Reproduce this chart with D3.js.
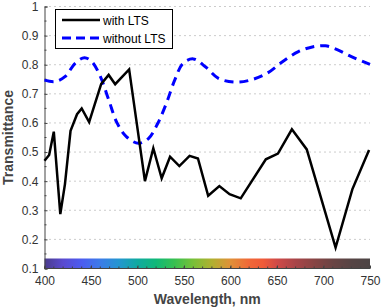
<!DOCTYPE html>
<meta charset="utf-8">
<script src="https://d3js.org/d3.v7.min.js"></script>
<style>
  body { margin: 0; background: #fff; }
  text { font-family: "Liberation Sans", Arial, sans-serif; }
</style>
<div id="chart"></div>
<script>
  // wavelength (nm) and transmittance
  var withWl  = [400, 405, 410, 417, 422, 428, 435, 440, 448, 454, 461, 469, 476, 491, 508, 517, 526, 535, 545, 556, 565, 576, 588, 599, 611, 638, 651, 666, 682, 713, 731, 749];
  var withT   = [0.47, 0.49, 0.57, 0.287, 0.39, 0.573, 0.63, 0.65, 0.603, 0.664, 0.734, 0.765, 0.733, 0.784, 0.40, 0.513, 0.41, 0.484, 0.452, 0.487, 0.478, 0.35, 0.383, 0.355, 0.341, 0.475, 0.495, 0.578, 0.509, 0.172, 0.372, 0.507];
  var withoutWl = [400, 411, 422, 433, 443, 451, 460, 469, 478, 488, 501, 512, 522, 531, 540, 549, 560, 573, 587, 605, 621, 639, 657, 673, 689, 702, 714, 730, 750];
  var withoutT  = [0.747, 0.742, 0.759, 0.805, 0.824, 0.81, 0.76, 0.68, 0.6, 0.553, 0.53, 0.547, 0.6, 0.667, 0.747, 0.805, 0.82, 0.793, 0.753, 0.74, 0.747, 0.77, 0.813, 0.845, 0.862, 0.865, 0.853, 0.828, 0.801];

  var xTicks = [400, 450, 500, 550, 600, 650, 700, 750];
  var yTicks = [0.1, 0.2, 0.3, 0.4, 0.5, 0.6, 0.7, 0.8, 0.9, 1];

  // spectrum strip along the bottom
  var specWl  = [400, 420, 440, 460, 480, 500, 520, 540, 560, 580, 600, 620, 635, 650, 670, 690, 710, 730, 750];
  var specCol = ["#4b3c8c", "#5a4ad0", "#4c5cf0", "#3c7ce8", "#2496d0", "#10aaa0", "#10b878", "#38c050", "#78c038", "#b0b030", "#e09038", "#f06838", "#f05a38", "#d04a48", "#a84448", "#884444", "#6a4444", "#564444", "#4c4444"];

  var W = 382, H = 308;
  var pL = 44.5, pR = 370, pT = 6.5, pB = 268.5;

  var svg = d3.select("#chart").append("svg")
      .attr("width", W)
      .attr("height", H);

  var x = d3.scaleLinear().domain([400, 750]).range([pL, pR]);
  var y = d3.scaleLinear().domain([0.1, 1]).range([pB, pT]);

  // dotted grid
  svg.append("g")
    .selectAll("line")
    .data(yTicks.slice(1))
    .enter().append("line")
      .attr("x1", pL).attr("x2", pR)
      .attr("y1", function(d) { return y(d); })
      .attr("y2", function(d) { return y(d); })
      .attr("stroke", "#999")
      .attr("stroke-width", 1)
      .attr("stroke-dasharray", "1,4");

  // colour bar
  var grad = svg.append("defs").append("linearGradient")
      .attr("id", "spec")
      .attr("x1", "0%").attr("x2", "100%").attr("y1", "0%").attr("y2", "0%");
  grad.selectAll("stop")
    .data(specWl)
    .enter().append("stop")
      .attr("offset", function(d) { return ((d - 400) / 350 * 100) + "%"; })
      .attr("stop-color", function(d, i) { return specCol[i]; });
  svg.append("rect")
    .attr("x", pL)
    .attr("y", y(0.1) - 10)
    .attr("width", pR - pL)
    .attr("height", 10)
    .attr("fill", "url(#spec)");

  // axes
  var xAxis = svg.append("g")
    .attr("transform", "translate(0," + pB + ")")
    .call(d3.axisBottom(x).tickValues(xTicks).tickSize(-3).tickPadding(8).tickFormat(d3.format("d")));
  xAxis.append("g")
    .selectAll("line")
    .data(d3.range(400, 751, 10))
    .enter().append("line")
      .attr("x1", function(d) { return x(d); })
      .attr("x2", function(d) { return x(d); })
      .attr("y1", 0).attr("y2", -2)
      .attr("stroke", "#444");

  var yAxis = svg.append("g")
    .attr("transform", "translate(" + pL + ",0)")
    .call(d3.axisLeft(y).tickValues(yTicks).tickSize(-3).tickPadding(6)
      .tickFormat(function(d) { return d === 1 ? "1" : d3.format(".1f")(d); }));
  yAxis.append("g")
    .selectAll("line")
    .data(d3.range(0.15, 1, 0.1))
    .enter().append("line")
      .attr("x1", 0).attr("x2", 2)
      .attr("y1", function(d) { return y(d); })
      .attr("y2", function(d) { return y(d); })
      .attr("stroke", "#444");

  [xAxis, yAxis].forEach(function(a) {
    a.select(".domain").attr("stroke", "#444");
    a.selectAll(".tick line").attr("stroke", "#444");
    a.selectAll("text")
      .style("font-size", "12px")
      .style("font-family", '"Liberation Sans", Arial, sans-serif')
      .attr("fill", "#333");
  });
  xAxis.select(".domain").remove();
  svg.append("line")
    .attr("x1", pL).attr("x2", pR)
    .attr("y1", pB).attr("y2", pB)
    .attr("stroke", "#444");

  // series
  var line = d3.line()
    .x(function(d) { return x(d[0]); })
    .y(function(d) { return y(d[1]); });

  svg.append("path")
    .datum(d3.zip(withoutWl, withoutT))
    .attr("d", line.curve(d3.curveCatmullRom))
    .attr("fill", "none")
    .attr("stroke", "#0000ff")
    .attr("stroke-width", 3)
    .attr("stroke-dasharray", "9,6");

  svg.append("path")
    .datum(d3.zip(withWl, withT))
    .attr("d", line.curve(d3.curveLinear))
    .attr("fill", "none")
    .attr("stroke", "#000")
    .attr("stroke-width", 2.5)
    .attr("stroke-linejoin", "miter");

  // axis titles
  svg.append("text")
    .attr("x", (pL + pR) / 2)
    .attr("y", 304)
    .attr("text-anchor", "middle")
    .style("font-size", "14px")
    .style("font-weight", "bold")
    .attr("fill", "#444")
    .text("Wavelength, nm");

  svg.append("text")
    .attr("transform", "translate(13," + ((pT + pB) / 2) + ") rotate(-90)")
    .attr("text-anchor", "middle")
    .style("font-size", "14px")
    .style("font-weight", "bold")
    .attr("fill", "#444")
    .text("Transmittance");

  // legend
  var lg = svg.append("g");
  lg.append("rect")
    .attr("x", 55.5).attr("y", 9.5)
    .attr("width", 117).attr("height", 39)
    .attr("fill", "#fff")
    .attr("stroke", "#000");
  lg.append("line")
    .attr("x1", 62).attr("x2", 100).attr("y1", 20).attr("y2", 20)
    .attr("stroke", "#000").attr("stroke-width", 2.5);
  lg.append("line")
    .attr("x1", 62).attr("x2", 100).attr("y1", 38).attr("y2", 38)
    .attr("stroke", "#0000ff").attr("stroke-width", 3).attr("stroke-dasharray", "9,5");
  lg.append("text")
    .attr("x", 103).attr("y", 24.5)
    .style("font-size", "12px")
    .text("with LTS");
  lg.append("text")
    .attr("x", 103).attr("y", 42.5)
    .style("font-size", "12px")
    .text("without LTS");
</script>
